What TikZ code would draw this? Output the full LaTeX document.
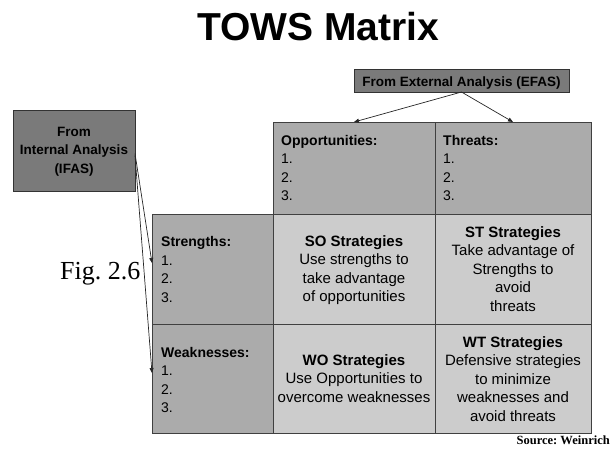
\documentclass[tikz,border=0pt]{standalone}
\usepackage{fontspec}
\setmainfont{Liberation Sans}
\newfontfamily\serifont{Liberation Serif}
\usetikzlibrary{arrows.meta}
\definecolor{hdr}{gray}{0.67}
\definecolor{strat}{gray}{0.80}
\definecolor{srcbox}{gray}{0.48}
\definecolor{edgec}{gray}{0.25}
\frenchspacing
\begin{document}
\begin{tikzpicture}[x=1pt,y=-1pt,
  cell/.style={draw=edgec, line width=0.8pt, anchor=north west, inner sep=0pt, outer sep=0pt},
  hcell/.style={cell, fill=hdr},
  scell/.style={cell, fill=strat},
  srcnode/.style={cell, fill=srcbox, draw=edgec!80!black},
  listtxt/.style={anchor=base west, inner sep=0pt, align=left, font=\fontsize{14}{18.5}\selectfont},
  strattxt/.style={anchor=base, inner sep=0pt, align=center, font=\fontsize{15}{18.5}\selectfont},
  srctxt/.style={anchor=base, inner sep=0pt, align=center, font=\fontsize{13.5}{18.5}\selectfont\bfseries},
  arr/.style={draw=black!85, line width=0.7pt, -{Triangle[length=5pt,width=4pt]}}
]
\useasboundingbox (0,0) rectangle (613,451);

% title
\node[anchor=base, inner sep=0pt, font=\fontsize{39}{40}\selectfont\bfseries] (title) at (318,40) {TOWS Matrix};

% source boxes
\node[srcnode, minimum width=122pt, minimum height=81pt] (ifas) at (13,110) {};
\node[srcnode, minimum width=215pt, minimum height=23pt] (efas) at (354,69) {};
\node[srctxt] (ifast) at (74,173) {From\\Internal Analysis\\(IFAS)};
\node[srctxt] (efast) at (461.5,86) {From External Analysis (EFAS)};

% matrix cells
\node[hcell, minimum width=162pt, minimum height=92pt] (opp) at (273,122) {};
\node[hcell, minimum width=156pt, minimum height=92pt] (thr) at (435,122) {};
\node[hcell, minimum width=121pt, minimum height=110pt] (str) at (152,214) {};
\node[scell, minimum width=162pt, minimum height=110pt] (so) at (273,214) {};
\node[scell, minimum width=156pt, minimum height=110pt] (st) at (435,214) {};
\node[hcell, minimum width=121pt, minimum height=109pt] (weak) at (152,324) {};
\node[scell, minimum width=162pt, minimum height=109pt] (wo) at (273,324) {};
\node[scell, minimum width=156pt, minimum height=109pt] (wt) at (435,324) {};

% lists (anchored at the baseline of the last line)
\node[listtxt] (oppt) at (281,200.5) {\textbf{Opportunities:}\\1.\\2.\\3.};
\node[listtxt] (thrt) at (443,200.5) {\textbf{Threats:}\\1.\\2.\\3.};
\node[listtxt] (strt) at (161,302) {\textbf{Strengths:}\\1.\\2.\\3.};
\node[listtxt] (weakt) at (161,412.5) {\textbf{Weaknesses:}\\1.\\2.\\3.};

% strategies
\node[strattxt] (sot) at (354,301.5) {\textbf{SO Strategies}\\Use strengths to\\take advantage\\of opportunities};
\node[strattxt] (stt) at (513,311) {\textbf{ST Strategies}\\Take advantage of\\Strengths to\\avoid\\threats};
\node[strattxt] (wot) at (354,402) {\textbf{WO Strategies}\\Use Opportunities to\\overcome weaknesses};
\node[strattxt] (wtt) at (513,421) {\textbf{WT Strategies}\\Defensive strategies\\to minimize\\weaknesses and\\avoid threats};

% labels
\node[anchor=base west, inner sep=0pt, font=\serifont\fontsize{26}{28}\selectfont] (fig) at (60,279) {Fig.\ 2.6};
\node[anchor=base east, inner sep=0pt, font=\serifont\bfseries\fontsize{12.5}{14}\selectfont] (srcw) at (610,444) {Source: Weinrich};

% arrows
\draw[arr] (efas.south) -- (opp.north);
\draw[arr] (efas.south) -- (thr.north);
\draw[arr] ([yshift=-3pt]ifas.east) -- ([yshift=6pt]str.west);
\draw[arr] ([yshift=-5pt]ifas.east) -- ([yshift=5.5pt]weak.west);
\end{tikzpicture}
\end{document}
